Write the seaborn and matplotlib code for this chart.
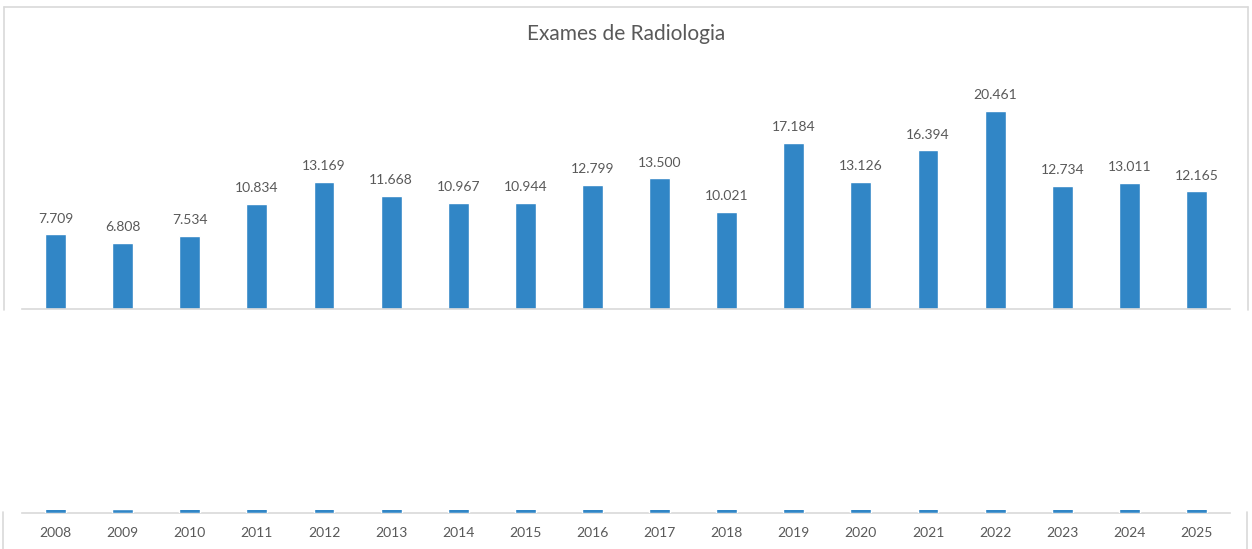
import matplotlib
matplotlib.use("Agg")
import matplotlib.pyplot as plt
from matplotlib.lines import Line2D
import pandas as pd
import seaborn as sns

anos = [str(a) for a in range(2008, 2026)]
exames = [7709, 6808, 7534, 10834, 13169, 11668, 10967, 10944, 12799,
          13500, 10021, 17184, 13126, 16394, 20461, 12734, 13011, 12165]

df = pd.DataFrame({"ano": anos, "exames": exames})

sns.set_style("white")
plt.rcParams['font.family'] = ['Lato', 'DejaVu Sans']

azul = "#3186C6"
cinza = "#595959"
borda = "#D9D9D9"

W, H = 1252, 549
fig = plt.figure(figsize=(W / 100, H / 100), dpi=100)

# parte de cima (barras normais)
ax = fig.add_axes([22 / W, (H - 309) / H, 1208 / W, 242 / H])
sns.barplot(data=df, x="ano", y="exames", color=azul, width=0.31,
            saturation=1, ax=ax)
ax.set_ylim(0, 25000)
ax.set_xlim(-0.5, len(anos) - 0.5)
rot = [f"{v:,}".replace(",", ".") for v in exames]
ax.bar_label(ax.containers[0], labels=rot, padding=7, color=cinza, fontsize=10)
ax.set_xlabel("")
ax.set_ylabel("")
ax.set_xticks([])
ax.set_yticks([])
for s in ["top", "left", "right"]:
    ax.spines[s].set_visible(False)
ax.spines["bottom"].set_color(borda)
ax.spines["bottom"].set_linewidth(1.2)

# parte de baixo (eixo achatado: as barras ficam cortadas no topo)
ax2 = fig.add_axes([22 / W, (H - 513) / H, 1208 / W, 3 / H])
sns.barplot(data=df, x="ano", y="exames", color=azul, width=0.31,
            saturation=1, ax=ax2, zorder=3)
ax2.set_ylim(0, 5000)
ax2.set_xlim(-0.5, len(anos) - 0.5)
ax2.set_xlabel("")
ax2.set_ylabel("")
ax2.set_yticks([])
ax2.tick_params(axis="x", length=0, pad=10, labelsize=10, labelcolor=cinza)
for s in ["top", "left", "right"]:
    ax2.spines[s].set_visible(False)
ax2.spines["bottom"].set_color(borda)
ax2.spines["bottom"].set_linewidth(1.2)
ax2.spines["bottom"].set_zorder(1)

fig.text(626 / W, (H - 34) / H, "Exames de Radiologia", ha="center",
         va="center", fontsize=15, color=cinza)

# moldura do gráfico
def linha(x0, y0, x1, y1):
    fig.add_artist(Line2D([x0 / W, x1 / W], [(H - y0) / H, (H - y1) / H],
                          color=borda, lw=1.2))

linha(4, 7, 1248, 7)
linha(4, 7, 4, 310)
linha(1248, 7, 1248, 310)
linha(3, 512, 3, 549)
linha(1247, 512, 1247, 549)

fig.savefig("out.png", dpi=100, facecolor="white")
